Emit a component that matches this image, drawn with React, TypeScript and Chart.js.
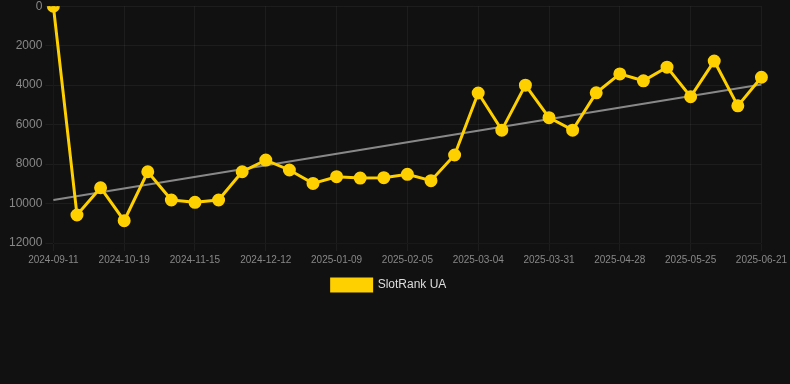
import React, { useEffect, useRef } from "react";
import { Chart, registerables } from "chart.js";

Chart.register(...registerables);

const labels: string[] = [
  "2024-09-11", "2024-09-24", "2024-10-06", "2024-10-19", "2024-10-28",
  "2024-11-06", "2024-11-15", "2024-11-24", "2024-12-03", "2024-12-12",
  "2024-12-21", "2024-12-31", "2025-01-09", "2025-01-18", "2025-01-27",
  "2025-02-05", "2025-02-14", "2025-02-23", "2025-03-04", "2025-03-13",
  "2025-03-22", "2025-03-31", "2025-04-09", "2025-04-19", "2025-04-28",
  "2025-05-07", "2025-05-16", "2025-05-25", "2025-06-03", "2025-06-12",
  "2025-06-21",
];

const rankValues: number[] = [
  0, 10580, 9200, 10870, 8390, 9820, 9940, 9820, 8390, 7800,
  8300, 8980, 8640, 8710, 8690, 8520, 8840, 7540, 4400, 6280,
  4000, 5650, 6280, 4390, 3430, 3780, 3090, 4590, 2780, 5050,
  3600,
];

const trendStart = 9820;
const trendEnd = 3970;
const trendValues: (number | null)[] = labels.map((_, i) =>
  i === 0 ? trendStart : i === labels.length - 1 ? trendEnd : null
);

const yTicks: number[] = [0, 2000, 4000, 6000, 8000, 10000, 12000];

export default function App() {
  const ref = useRef<HTMLCanvasElement | null>(null);

  useEffect(() => {
    document.body.style.margin = "0";
    document.body.style.background = "#111111";
    if (!ref.current) return;
    const chart = new Chart(ref.current, {
      type: "line",
      data: {
        labels,
        datasets: [
          {
            label: "SlotRank UA",
            data: rankValues,
            borderColor: "#FFD000",
            backgroundColor: "#FFD000",
            borderWidth: 3,
            pointRadius: 5,
            pointHoverRadius: 5,
            pointBackgroundColor: "#FFD000",
            pointBorderColor: "#FFD000",
            tension: 0,
            order: 1,
          },
          {
            label: "trend",
            data: trendValues,
            borderColor: "rgba(150,150,150,0.9)",
            borderWidth: 2,
            pointRadius: 0,
            spanGaps: true,
            order: 2,
          },
        ],
      },
      options: {
        animation: false,
        responsive: true,
        maintainAspectRatio: false,
        layout: { padding: { left: 6, right: 18 } },
        plugins: {
          legend: {
            position: "bottom",
            labels: {
              color: "#dddddd",
              font: { size: 12 },
              boxWidth: 40,
              filter: (item) => item.text !== "trend",
            },
          },
          tooltip: { enabled: false },
        },
        scales: {
          x: {
            grid: { color: "rgba(255,255,255,0.05)" },
            ticks: {
              color: "#888888",
              font: { size: 10 },
              maxRotation: 0,
              autoSkip: true,
            },
          },
          y: {
            reverse: true,
            min: 0,
            max: 12000,
            afterBuildTicks: (axis) => {
              axis.ticks = yTicks.map((v) => ({ value: v }));
            },
            grid: { color: "rgba(255,255,255,0.05)" },
            ticks: {
              color: "#888888",
              font: { size: 12 },
              callback: (v) => String(v),
            },
          },
        },
      },
    });
    return () => chart.destroy();
  }, []);

  return (
    <div style={{ width: 790, height: 305, marginTop: -4, background: "#111111" }}>
      <canvas ref={ref} />
    </div>
  );
}
